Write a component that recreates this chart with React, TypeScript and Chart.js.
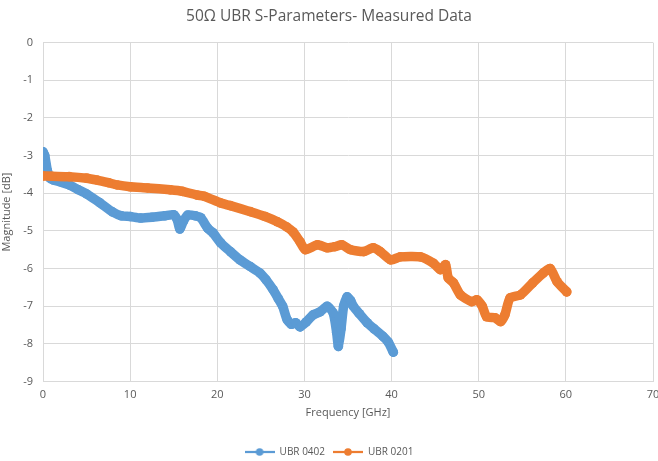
import React, { useEffect, useRef } from "react";
import { Chart, registerables } from "chart.js";

Chart.register(...registerables);

const chartTitle = "50Ω UBR S-Parameters- Measured Data";
const xAxisTitle = "Frequency [GHz]";
const yAxisTitle = "Magnitude [dB]";

const series0402Name = "UBR 0402";
const series0402X = [0, 0.2, 0.5, 0.8, 1.2, 2, 3, 4, 5, 6.5, 8, 9, 10, 11.2, 12.5, 14, 15, 15.4, 15.7, 16.1, 16.6, 17.5, 18.1, 18.9, 19.5, 20.4, 21.5, 22.6, 23.8, 24.9, 25.6, 26.4, 27, 27.5, 28, 28.5, 29, 29.5, 30.2, 31, 31.8, 32.6, 33.3, 33.7, 33.9, 34.2, 34.5, 34.9, 35.3, 35.6, 36.3, 37.2, 38, 39, 39.6, 40.2];
const series0402Y = [-2.9, -3.0, -3.4, -3.6, -3.65, -3.7, -3.78, -3.9, -4.02, -4.25, -4.5, -4.6, -4.62, -4.66, -4.64, -4.6, -4.57, -4.7, -4.95, -4.75, -4.58, -4.6, -4.65, -4.93, -5.05, -5.32, -5.55, -5.77, -5.95, -6.12, -6.3, -6.56, -6.8, -7.0, -7.35, -7.48, -7.44, -7.55, -7.42, -7.23, -7.15, -7.0, -7.18, -7.7, -8.07, -7.6, -7.0, -6.75, -6.85, -7.0, -7.2, -7.44, -7.6, -7.8, -7.95, -8.22];

const series0201Name = "UBR 0201";
const series0201X = [0, 1, 3, 5, 6.2, 7.5, 8.5, 10, 12, 14.6, 16, 17.7, 18.5, 20.4, 21.5, 23.8, 25.5, 26.9, 28, 28.7, 29.5, 30.1, 31.5, 32.6, 33.5, 34.3, 35.3, 36.8, 37.9, 38.7, 39.9, 41, 43.3, 44.8, 45.6, 46.2, 46.5, 47.1, 47.9, 49.2, 49.8, 50.4, 50.9, 51.9, 52.5, 53, 53.6, 54.8, 56.2, 57.4, 58.2, 59, 60.1];
const series0201Y = [-3.54, -3.55, -3.56, -3.6, -3.65, -3.72, -3.78, -3.83, -3.86, -3.91, -3.95, -4.05, -4.08, -4.26, -4.33, -4.49, -4.62, -4.76, -4.9, -5.03, -5.29, -5.5, -5.37, -5.45, -5.42, -5.37, -5.5, -5.55, -5.45, -5.55, -5.77, -5.69, -5.69, -5.86, -6.03, -5.9, -6.25, -6.38, -6.7, -6.88, -6.83, -7.0, -7.28, -7.31, -7.41, -7.23, -6.78, -6.7, -6.38, -6.12, -6.0, -6.35, -6.62];

const xMin = 0;
const xMax = 70;
const xStep = 10;
const yMin = -9;
const yMax = 0;
const yStep = 1;

const BLUE = "#5b9bd5";
const ORANGE = "#ed7d31";
const TEXT = "#595959";
const GRID = "#d9d9d9";
const FONT = "'Open Sans', 'Liberation Sans', sans-serif";

function toPoints(xs: number[], ys: number[]) {
  return xs.map((x, i) => ({ x, y: ys[i] }));
}

function legendIcon(color: string) {
  const c = document.createElement("canvas");
  c.width = 30;
  c.height = 10;
  const ctx = c.getContext("2d")!;
  ctx.strokeStyle = color;
  ctx.lineWidth = 2.25;
  ctx.beginPath();
  ctx.moveTo(0, 5);
  ctx.lineTo(30, 5);
  ctx.stroke();
  ctx.fillStyle = color;
  ctx.beginPath();
  ctx.arc(15, 5, 3.8, 0, Math.PI * 2);
  ctx.fill();
  return c;
}

const legendShift = {
  id: "legendShift",
  afterLayout(chart: any) {
    const l = chart.legend;
    if (l) {
      l.top += 6;
      l.bottom += 6;
    }
  },
};

export default function App() {
  const ref = useRef<HTMLCanvasElement | null>(null);

  useEffect(() => {
    document.body.style.margin = "0";
    const canvas = ref.current;
    if (!canvas) return;
    const icons = [legendIcon(BLUE), legendIcon(ORANGE)];
    const chart = new Chart(canvas, {
      type: "scatter",
      plugins: [legendShift],
      data: {
        datasets: [
          {
            label: series0402Name,
            data: toPoints(series0402X, series0402Y),
            borderColor: BLUE,
            backgroundColor: BLUE,
            borderWidth: 9.5,
            pointRadius: 4.8,
            pointBorderWidth: 0,
            showLine: true,
            tension: 0.2,
            borderCapStyle: "round",
            borderJoinStyle: "round",
            order: 1,
          },
          {
            label: series0201Name,
            data: toPoints(series0201X, series0201Y),
            borderColor: ORANGE,
            backgroundColor: ORANGE,
            borderWidth: 9.5,
            pointRadius: 4.8,
            pointBorderWidth: 0,
            showLine: true,
            tension: 0.2,
            borderCapStyle: "round",
            borderJoinStyle: "round",
            order: 0,
          },
        ],
      },
      options: {
        animation: false,
        responsive: true,
        maintainAspectRatio: false,
        layout: { padding: 0 },
        plugins: {
          title: {
            display: true,
            text: chartTitle,
            color: TEXT,
            font: { family: FONT, size: 15.5, weight: "normal" },
            padding: { top: 7, bottom: 17 },
          },
          legend: {
            position: "bottom",
            labels: {
              color: TEXT,
              font: { family: FONT, size: 10 },
              usePointStyle: true,
              pointStyleWidth: 30,
              boxHeight: 10,
              padding: 8,
              generateLabels: (ch: any) =>
                ch.data.datasets.map((ds: any, i: number) => ({
                  text: ds.label,
                  fillStyle: ds.backgroundColor,
                  strokeStyle: ds.borderColor,
                  lineWidth: 0,
                  pointStyle: icons[i],
                  hidden: !ch.isDatasetVisible(i),
                  datasetIndex: i,
                  fontColor: TEXT,
                })),
            },
          },
          tooltip: { enabled: false },
        },
        scales: {
          x: {
            type: "linear",
            min: xMin,
            max: xMax,
            ticks: { stepSize: xStep, color: TEXT, font: { family: FONT, size: 11 }, padding: 7 },
            grid: { color: GRID, drawTicks: false },
            border: { color: GRID },
            title: {
              display: true,
              text: xAxisTitle,
              color: TEXT,
              font: { family: FONT, size: 11 },
              padding: { top: 0, bottom: 13.4 },
            },
            afterFit: (scale: any) => {
              scale.height = 51.5;
              scale.paddingRight = 5;
              scale.paddingLeft = 0;
            },
          },
          y: {
            type: "linear",
            min: yMin,
            max: yMax,
            ticks: { stepSize: yStep, color: TEXT, font: { family: FONT, size: 11 }, padding: 10 },
            grid: { color: GRID, drawTicks: false },
            border: { color: GRID },
            title: {
              display: true,
              text: yAxisTitle,
              color: TEXT,
              font: { family: FONT, size: 11 },
              padding: { top: 0, bottom: 0 },
            },
            afterFit: (scale: any) => {
              scale.width = 43;
            },
          },
        },
      },
    });
    return () => chart.destroy();
  }, []);

  return (
    <div style={{ position: "relative", width: 658, height: 461 }}>
      <canvas ref={ref} />
    </div>
  );
}
